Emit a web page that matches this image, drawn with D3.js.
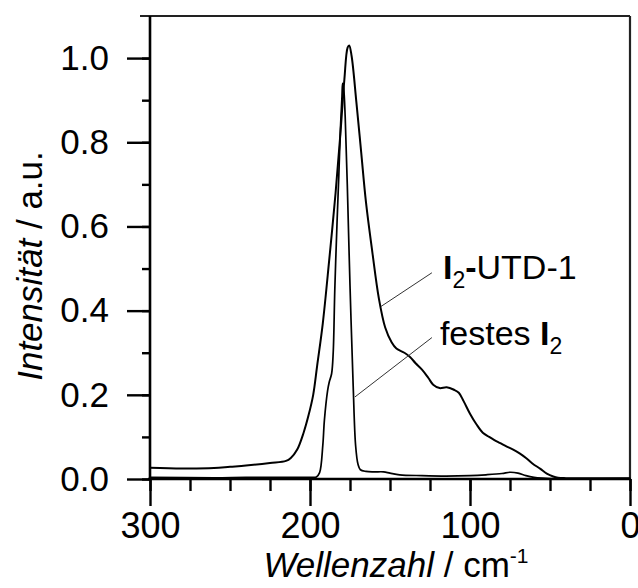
<!doctype html>
<html lang="de">
<head>
<meta charset="utf-8">
<title>Raman I2</title>
<style>
  body { margin: 0; background: #fff; }
  svg { display: block; font-family: "Liberation Sans", Arial, sans-serif; }
</style>
</head>
<body>
<div id="chart"></div>
<script src="https://d3js.org/d3.v7.min.js"></script>
<script>
// Wellenzahl (cm-1) und Intensität
var utdW = [300, 280, 260, 250, 240, 225, 215, 212, 208, 204, 201, 198, 195.5, 192, 188, 184, 181, 178.5, 176.5, 175.5, 174, 171, 168, 165, 161, 157, 153, 149, 146, 141, 137.5, 134, 130, 126, 123, 119, 114.6, 110, 107, 104, 100, 96, 92, 88, 85, 81, 77, 73, 69, 65, 61, 56, 52, 48, 45, 40, 20, 0];
var utdI = [0.027, 0.025, 0.026, 0.029, 0.032, 0.038, 0.043, 0.05, 0.07, 0.11, 0.15, 0.2, 0.27, 0.37, 0.52, 0.68, 0.82, 0.95, 1.025, 1.03, 1.005, 0.895, 0.776, 0.657, 0.538, 0.43, 0.36, 0.325, 0.31, 0.3, 0.29, 0.275, 0.26, 0.24, 0.224, 0.216, 0.218, 0.212, 0.205, 0.185, 0.155, 0.13, 0.11, 0.1, 0.093, 0.085, 0.077, 0.07, 0.061, 0.05, 0.037, 0.024, 0.013, 0.006, 0.003, 0.002, 0.002, 0.002];

var festW = [300, 260, 240, 220, 200, 196, 194, 192, 191, 189, 188, 186.5, 185.5, 184.5, 183, 182, 181, 180, 179.6, 179, 178, 176.7, 175, 173, 171.5, 170, 168.5, 165, 160, 154, 150, 144, 130, 115, 100, 90, 80, 75, 70, 65, 60, 55, 50, 0];
var festI = [0.004, 0.003, 0.004, 0.004, 0.004, 0.005, 0.015, 0.08, 0.14, 0.21, 0.23, 0.25, 0.3, 0.45, 0.62, 0.72, 0.83, 0.91, 0.94, 0.93, 0.86, 0.7, 0.46, 0.22, 0.08, 0.035, 0.022, 0.018, 0.017, 0.017, 0.014, 0.01, 0.008, 0.007, 0.008, 0.01, 0.013, 0.016, 0.014, 0.008, 0.004, 0.002, 0.001, 0.001];

var xMajor = [300, 200, 100, 0];
var xMinor = d3.range(0, 301, 25);
var yMajor = [0, 0.2, 0.4, 0.6, 0.8, 1.0];
var yMinor = d3.range(0, 11).map(function(i) { return i / 10; });

var W = 638, H = 588;
var mLeft = 150, mRight = 630, mTop = 16, mBottom = 479;

var x = d3.scaleLinear().domain([300, 0]).range([mLeft, mRight]);
var y = d3.scaleLinear().domain([0, 1.1]).range([mBottom, mTop]);

var svg = d3.select("#chart").append("svg")
  .attr("width", W)
  .attr("height", H);

// Rahmen oben und rechts
svg.append("line").attr("x1", mLeft - 10).attr("x2", mRight).attr("y1", mTop).attr("y2", mTop)
  .attr("stroke", "#222").attr("stroke-width", 2.2);
svg.append("line").attr("x1", mRight).attr("x2", mRight).attr("y1", mTop).attr("y2", mBottom)
  .attr("stroke", "#222").attr("stroke-width", 2.2);

// x-Achse
var xAxis = svg.append("g").attr("transform", "translate(0," + mBottom + ")");
xAxis.call(d3.axisBottom(x).tickValues(xMinor).tickSize(12).tickFormat(""));
xAxis.append("g").call(d3.axisBottom(x).tickValues(xMajor).tickSize(27).tickPadding(6).tickFormat(d3.format("d")));
xAxis.selectAll(".domain").remove();
xAxis.selectAll("line").attr("stroke", "#000").attr("stroke-width", 2.4);
xAxis.selectAll("text").attr("fill", "#000").style("font-size", "36px");
svg.append("line").attr("x1", mLeft - 2).attr("x2", mRight + 1).attr("y1", mBottom).attr("y2", mBottom)
  .attr("stroke", "#000").attr("stroke-width", 2.6);

// y-Achse
var yAxis = svg.append("g").attr("transform", "translate(" + mLeft + ",0)");
yAxis.call(d3.axisLeft(y).tickValues(yMinor).tickSize(8).tickFormat(""));
yAxis.append("g").call(d3.axisLeft(y).tickValues(yMajor).tickSize(23).tickPadding(18).tickFormat(d3.format(".1f")));
yAxis.selectAll(".domain").remove();
yAxis.selectAll("line").attr("stroke", "#000").attr("stroke-width", 2.4);
yAxis.selectAll("text").attr("fill", "#000").style("font-size", "35px");
svg.append("line").attr("x1", mLeft).attr("x2", mLeft).attr("y1", mTop).attr("y2", mBottom + 1)
  .attr("stroke", "#000").attr("stroke-width", 2.6);

// Kurven
var line = d3.line()
  .x(function(d) { return x(d[0]); })
  .y(function(d) { return y(d[1]); })
  .curve(d3.curveCatmullRom.alpha(0.5));

svg.append("path")
  .datum(d3.zip(festW, festI))
  .attr("d", line)
  .attr("fill", "none").attr("stroke", "#000").attr("stroke-width", 1.7);

svg.append("path")
  .datum(d3.zip(utdW, utdI))
  .attr("d", line)
  .attr("fill", "none").attr("stroke", "#000").attr("stroke-width", 2);

// Beschriftungen mit Hinweislinien
var notes = [
  { from: [155.6, 0.41], to: [123.8, 0.49], at: [116.9, 0.474], pre: "", el: "I", post: "-UTD-1" },
  { from: [171.9, 0.195], to: [123.8, 0.336], at: [118.8, 0.319], pre: "festes ", el: "I", post: "" }
];
notes.forEach(function(n) {
  svg.append("line")
    .attr("x1", x(n.from[0])).attr("y1", y(n.from[1]))
    .attr("x2", x(n.to[0])).attr("y2", y(n.to[1]))
    .attr("stroke", "#333").attr("stroke-width", 1);
  var t = svg.append("text")
    .attr("x", x(n.at[0])).attr("y", y(n.at[1]))
    .style("font-size", "34px").attr("fill", "#000");
  if (n.pre) t.append("tspan").text(n.pre);
  t.append("tspan").style("font-weight", "bold").text(n.el);
  t.append("tspan").attr("dy", 9).style("font-size", "23px").text("2");
  if (n.post) {
    t.append("tspan").attr("dy", -9).style("font-weight", "bold").text("-");
    t.append("tspan").text(n.post.slice(1));
  }
});

// Achsentitel
var xt = svg.append("text")
  .attr("x", 396).attr("y", 577)
  .attr("text-anchor", "middle")
  .style("font-size", "35px").attr("fill", "#000");
xt.append("tspan").style("font-style", "italic").text("Wellenzahl");
xt.append("tspan").text(" / cm");
xt.append("tspan").attr("dy", -14).style("font-size", "21px").text("-1");

var yt = svg.append("text")
  .attr("transform", "translate(42,266) rotate(-90)")
  .attr("text-anchor", "middle")
  .style("font-size", "35px").attr("fill", "#000");
yt.append("tspan").style("font-style", "italic").text("Intensität");
yt.append("tspan").text(" / a.u.");
</script>
</body>
</html>
